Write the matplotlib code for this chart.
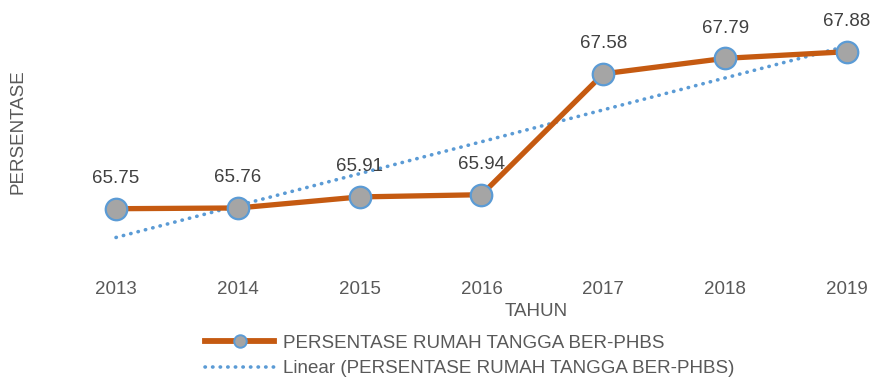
import numpy as np
import matplotlib.pyplot as plt
from matplotlib.lines import Line2D

plt.rcParams['font.family'] = ['Liberation Sans', 'DejaVu Sans']

# Persentase rumah tangga ber-PHBS per tahun
tahun = ['2013', '2014', '2015', '2016', '2017', '2018', '2019']
persentase = [65.75, 65.76, 65.91, 65.94, 67.58, 67.79, 67.88]

orange = '#C55A11'
blue = '#5B9BD5'
gray = '#A5A5A5'
text_col = '#595959'
label_col = '#404040'
fs = 13.5

fig = plt.figure(figsize=(8.74, 3.81), dpi=100)
W, H = 874, 381
ax = fig.add_axes([40 / W, (H - 264) / H, 830 / W, 258 / H])

x = np.arange(len(tahun))
y = np.array(persentase)

# linear trendline
coef = np.polyfit(x, y, 1)
ax.plot(x, np.polyval(coef, x), color=blue, lw=2.6, linestyle=(0, (0.1, 2.0)),
        dash_capstyle='round', zorder=2)

ax.plot(x, y, color=orange, lw=3.8, marker='o', markersize=15.5,
        markerfacecolor=gray, markeredgecolor=blue, markeredgewidth=1.6, zorder=3)

for xi, yi in zip(x, y):
    ax.annotate(f'{yi:.2f}', (xi, yi), xytext=(0, 30), textcoords='offset pixels',
                ha='center', va='center', fontsize=fs, color=label_col)

ax.set_xlim((40 - 116) / 121.83, (870 - 116) / 121.83)
ax.set_ylim(65.0, 68.5)
ax.set_xticks(x)
ax.set_xticklabels(tahun, fontsize=fs, color=text_col)
ax.tick_params(axis='x', length=0, pad=12)
ax.set_yticks([])
for s in ax.spines.values():
    s.set_visible(False)

fig.text(536 / W, (H - 312) / H, 'TAHUN', fontsize=fs, color=text_col,
         ha='center', va='center')
fig.text(18 / W, (H - 132) / H, 'PERSENTASE', rotation=90, fontsize=fs,
         color=text_col, ha='center', va='center')

handles = [
    Line2D([], [], color=orange, lw=4.2, marker='o', markersize=9,
           markerfacecolor=gray, markeredgecolor=blue, markeredgewidth=1.4),
    Line2D([], [], color=blue, lw=2.6, linestyle=(0, (0.1, 2.0)), dash_capstyle='round'),
]
labels = ['PERSENTASE RUMAH TANGGA BER-PHBS',
          'Linear (PERSENTASE RUMAH TANGGA BER-PHBS)']
fig.legend(handles, labels, loc='center left', bbox_to_anchor=(205 / W, 1 - 356 / H),
           frameon=False, fontsize=fs, labelcolor=text_col, handlelength=3.7,
           handletextpad=0.45, labelspacing=0.45, borderpad=0, borderaxespad=0)

fig.savefig('out.png', dpi=100)
